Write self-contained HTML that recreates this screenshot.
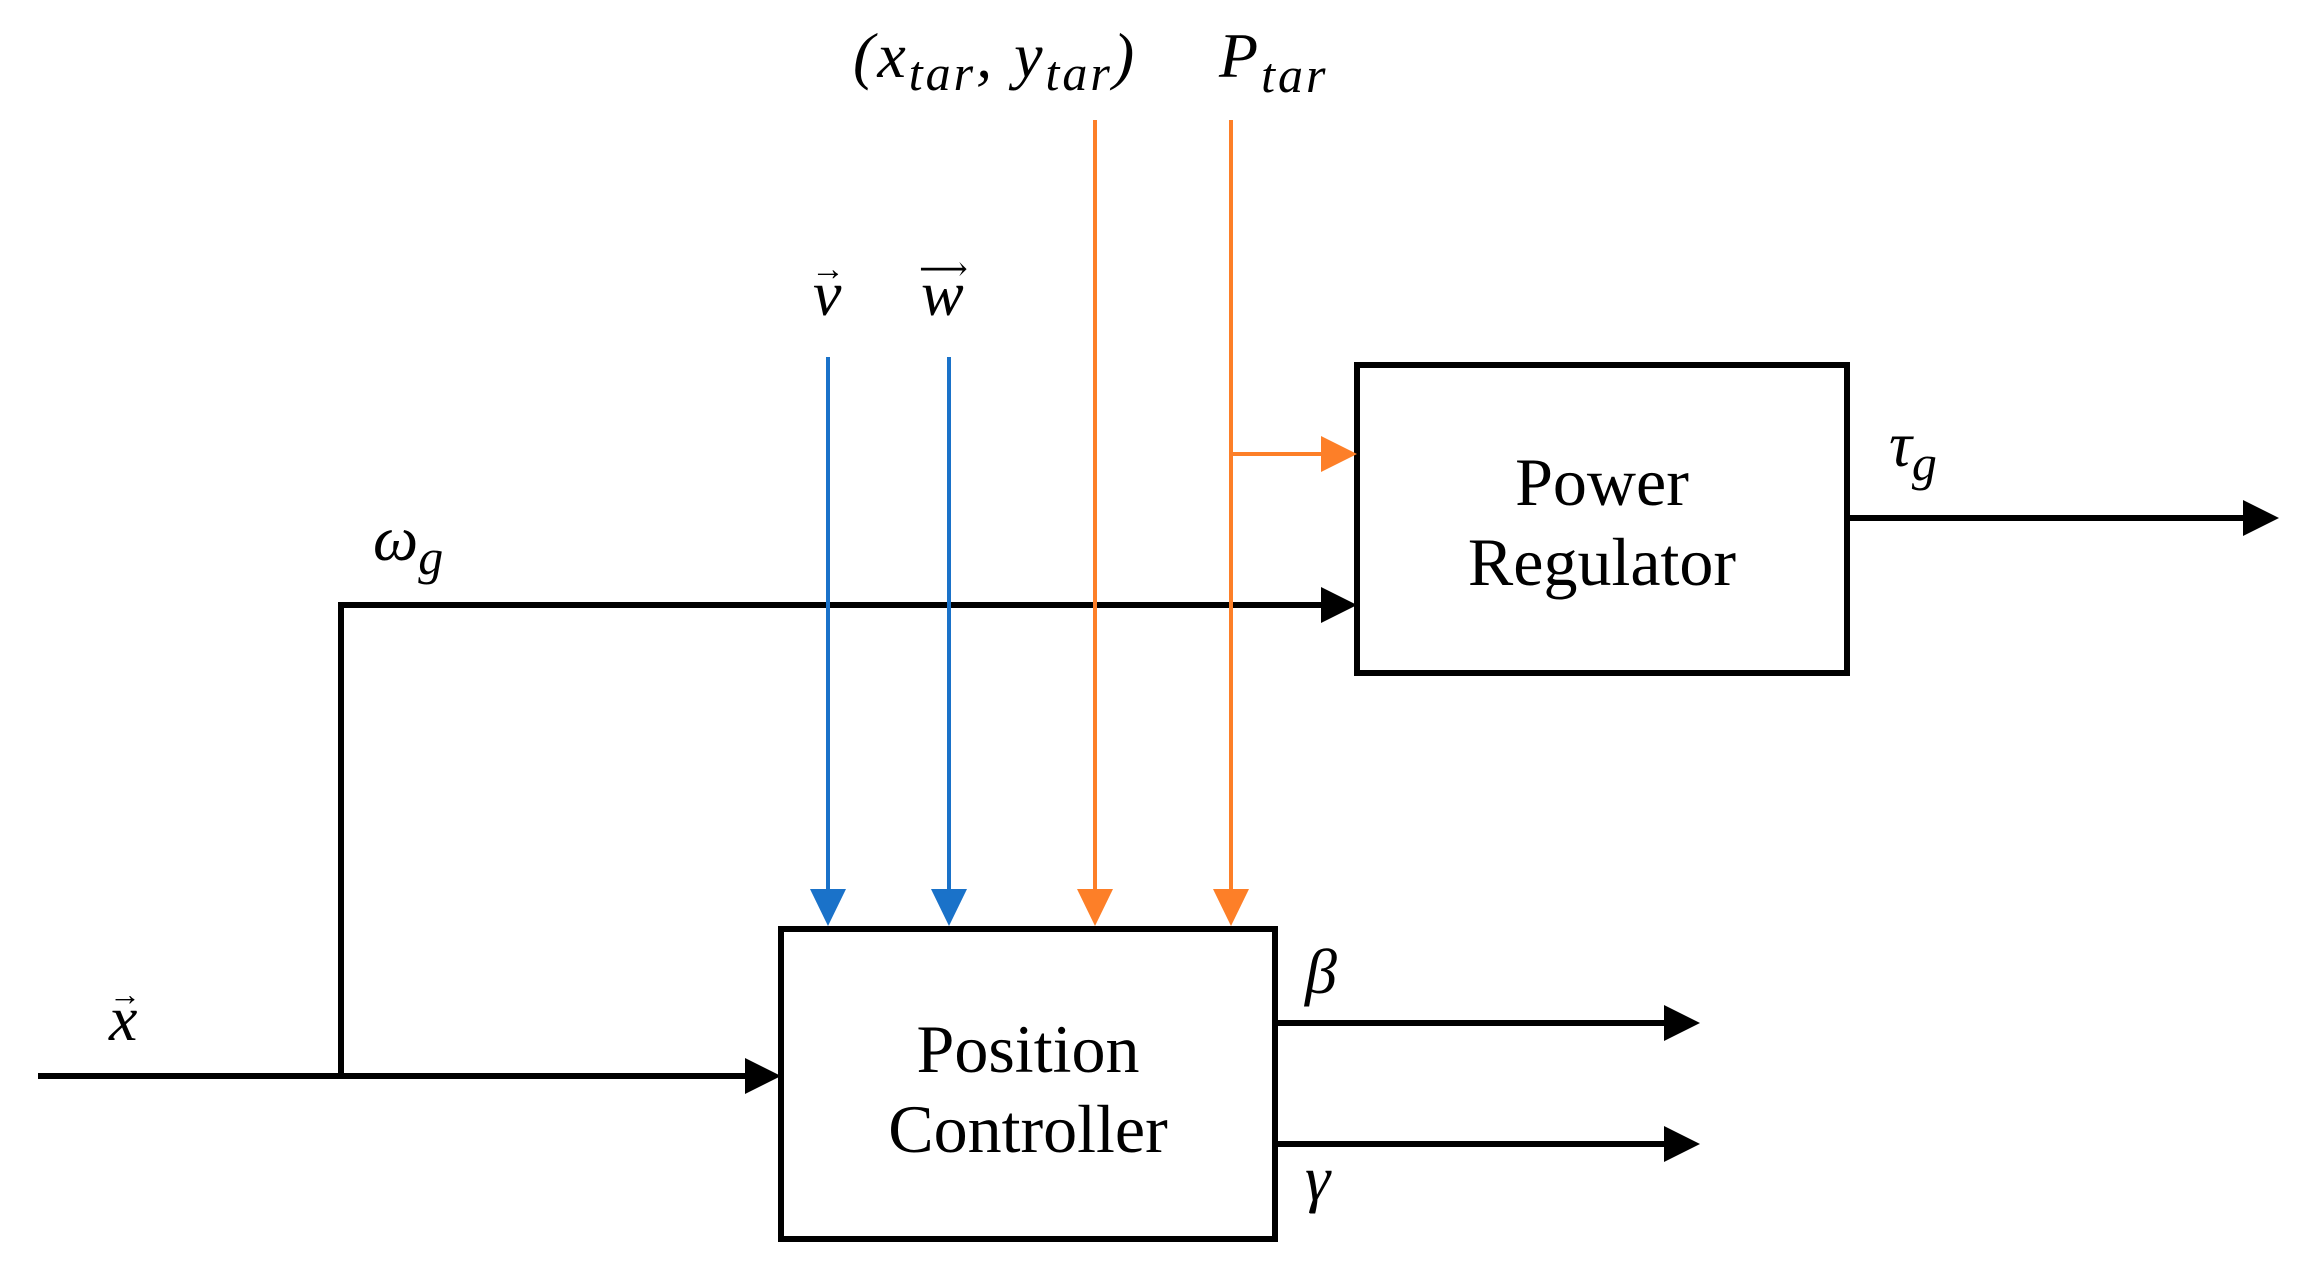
<!DOCTYPE html>
<html><head><meta charset="utf-8"><style>
html,body{margin:0;padding:0;background:#fff;}
svg{display:block;}
text{font-family:"Liberation Serif","DejaVu Serif",serif;fill:#000;}
.m{font-style:italic;font-size:64px;}
.s{font-style:italic;font-size:50px;}
.b{font-size:68px;}
</style></head><body>
<svg width="2302" height="1273" viewBox="0 0 2302 1273" xmlns="http://www.w3.org/2000/svg">
<rect width="2302" height="1273" fill="#fff"/>
<g transform="translate(-3,-3)">
<rect x="784" y="932" width="494" height="310" fill="none" stroke="#000" stroke-width="6"/>
<rect x="1360" y="368" width="490" height="308" fill="none" stroke="#000" stroke-width="6"/>
<text class="b" x="1031" y="1075" text-anchor="middle">Position</text>
<text class="b" x="1031" y="1155" text-anchor="middle">Controller</text>
<text class="b" x="1605" y="508" text-anchor="middle">Power</text>
<text class="b" x="1605" y="588" text-anchor="middle">Regulator</text>
<g stroke="#000" stroke-width="6" fill="none">
<line x1="41" y1="1079" x2="752" y2="1079"/>
<polyline points="344,1079 344,608 1328,608"/>
<line x1="1851" y1="521" x2="2248" y2="521"/>
<line x1="1281" y1="1026" x2="1670" y2="1026"/>
<line x1="1281" y1="1147" x2="1670" y2="1147"/>
</g>
<g fill="#000">
<polygon points="748,1061 784,1079 748,1097"/>
<polygon points="1324,590 1360,608 1324,626"/>
<polygon points="2246,503 2282,521 2246,539"/>
<polygon points="1667,1008 1703,1026 1667,1044"/>
<polygon points="1667,1129 1703,1147 1667,1165"/>
</g>
<g stroke="#1a72c9" stroke-width="4">
<line x1="831" y1="360" x2="831" y2="898"/>
<line x1="952" y1="360" x2="952" y2="898"/>
</g>
<g fill="#1a72c9">
<polygon points="813,892 849,892 831,929"/>
<polygon points="934,892 970,892 952,929"/>
</g>
<g stroke="#fd7f28" stroke-width="4">
<line x1="1098" y1="123" x2="1098" y2="898"/>
<line x1="1234" y1="123" x2="1234" y2="898"/>
<line x1="1234" y1="457" x2="1330" y2="457"/>
</g>
<g fill="#fd7f28">
<polygon points="1080,892 1116,892 1098,929"/>
<polygon points="1216,892 1252,892 1234,929"/>
<polygon points="1324,439 1360,457 1324,475"/>
</g>
<text x="856" y="80" letter-spacing="3"><tspan class="m" font-style="normal">(</tspan><tspan class="m">x</tspan><tspan class="s" dy="13">tar</tspan><tspan class="m" dy="-13">, y</tspan><tspan class="s" dy="13">tar</tspan><tspan class="m" font-style="normal" dy="-13">)</tspan></text>
<text x="1222" y="80" letter-spacing="3"><tspan class="m">P</tspan><tspan class="s" dy="15">tar</tspan></text>
<text class="m" x="816" y="318">v</text><text x="814" y="283" font-size="34">→</text>
<text class="m" x="924" y="318">w</text><text x="922" y="283" font-size="34">⟶</text>
<text class="m" x="112" y="1043">x</text><text x="112" y="1008" font-size="32">→</text>
<text x="376" y="563"><tspan class="m">ω</tspan><tspan class="s" dy="14">g</tspan></text>
<text x="1892" y="469"><tspan class="m">τ</tspan><tspan class="s" dy="14">g</tspan></text>
<text class="m" x="1308" y="996">β</text>
<text class="m" x="1308" y="1203">γ</text>
</g>
</svg>
</body></html>
